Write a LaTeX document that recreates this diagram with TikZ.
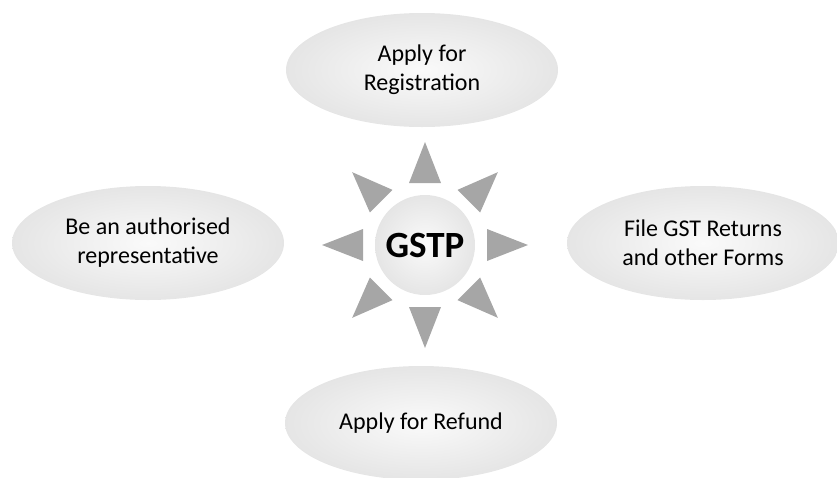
\documentclass[tikz,border=0pt]{standalone}
\usepackage{fontspec}
\setmainfont{Carlito}
\usetikzlibrary{shapes.geometric}
\pgfdeclareradialshading{glow}{\pgfpoint{0bp}{0bp}}{color(0bp)=(gray!4); color(40bp)=(gray!30); color(50bp)=(gray!40)}
\tikzset{
  task/.style={ellipse, shading=glow, minimum width=272pt, minimum height=114pt,
    inner sep=0pt, align=center, font=\fontsize{24}{29}\selectfont},
  hub/.style={circle, shading=glow, minimum size=100pt, inner sep=0pt,
    font=\fontsize{37}{42}\selectfont\bfseries},
  ray/.style={fill=gray!70}
}
\begin{document}
\begin{tikzpicture}[x=1pt,y=-1pt]
  \useasboundingbox (0,0) rectangle (837,477);
  \node[hub] (gstp) at (425,245) {GSTP};
  \node[task] (reg) at (422,70) {Apply for\\Registration};
  \node[task] (rep) at (148,243) {Be an authorised\\representative};
  \node[task] (ret) at (703,243) {File GST Returns\\and other Forms};
  \node[task] (ref) at (421,423) {Apply for Refund};
  % rays round the hub
  \foreach \a in {0,45,...,315}
    \fill[ray, shift={(gstp.center)}, rotate=\a] (62,16) -- (103,0) -- (62,-16) -- cycle;
\end{tikzpicture}
\end{document}
